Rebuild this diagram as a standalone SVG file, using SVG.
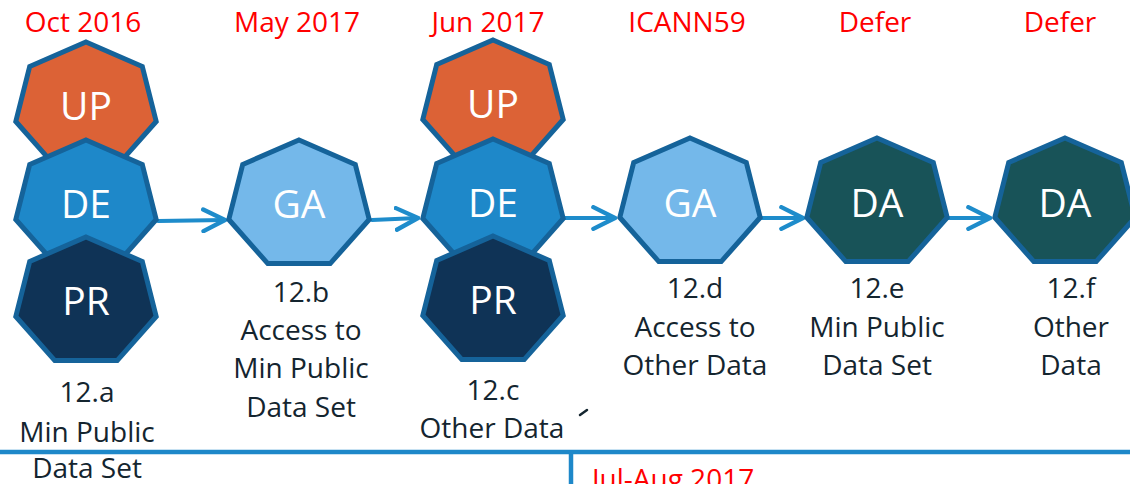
<svg xmlns="http://www.w3.org/2000/svg" xmlns:xlink="http://www.w3.org/1999/xlink" width="1130" height="484" viewBox="0 0 1130 484">
<style>
.hep{stroke:#15639A;stroke-width:5;stroke-linejoin:miter}
.up{fill:#DC6236}.de{fill:#1E88C9}.pr{fill:#0F3356}.ga{fill:#74B8EA}.da{fill:#185358}
.in{font-family:"Open Sans","Liberation Sans",sans-serif;font-size:39px;fill:#FFFFFF;text-anchor:middle}
.hd{font-family:"Open Sans","Liberation Sans",sans-serif;font-size:28px;fill:#FF0000;text-anchor:middle}
.lb{font-family:"Open Sans","Liberation Sans",sans-serif;font-size:28px;fill:#14252F;text-anchor:middle}
.con{stroke:#1E8CCB;stroke-width:4;fill:none;stroke-linecap:round;stroke-linejoin:round}
</style>
<defs>
<polygon id="hept" points="0,-65 56.3,-40.5 70.2,14.5 31.2,58.6 -31.2,58.6 -70.2,14.5 -56.3,-40.5"/>
<marker id="arr" viewBox="0 0 12 12" refX="11" refY="6" markerWidth="6.5" markerHeight="6.5" markerUnits="strokeWidth" orient="auto">
<path d="M1,1 L11,6 L1,11" fill="none" stroke="#1E8CCB" stroke-width="2" stroke-linecap="round" stroke-linejoin="round"/>
</marker>
</defs>
<rect width="1130" height="484" fill="#FFFFFF"/>

<g id="headers">
<text class="hd" x="83" y="32">Oct 2016</text>
<text class="hd" x="297" y="32">May 2017</text>
<text class="hd" x="488" y="32">Jun 2017</text>
<text class="hd" x="687" y="32">ICANN59</text>
<text class="hd" x="875" y="32">Defer</text>
<text class="hd" x="1060" y="32">Defer</text>
</g>

<g id="connectors">
<line class="con" x1="158" y1="221" x2="225" y2="220" marker-end="url(#arr)"/>
<line class="con" x1="372" y1="220" x2="418" y2="218" marker-end="url(#arr)"/>
<line class="con" x1="563" y1="218" x2="615" y2="218" marker-end="url(#arr)"/>
<line class="con" x1="759" y1="218" x2="803" y2="218" marker-end="url(#arr)"/>
<line class="con" x1="947" y1="218" x2="990" y2="218" marker-end="url(#arr)"/>
</g>

<g id="node-12a">
<use xlink:href="#hept" href="#hept" class="hep up" transform="translate(86,107)"/>
<text class="in" x="86" y="120">UP</text>
<use xlink:href="#hept" href="#hept" class="hep de" transform="translate(86,205)"/>
<text class="in" x="86" y="218">DE</text>
<use xlink:href="#hept" href="#hept" class="hep pr" transform="translate(86,302)"/>
<text class="in" x="86" y="315">PR</text>
<text class="lb" x="87" y="402">12.a</text>
<text class="lb" x="87" y="442">Min Public</text>
<text class="lb" x="87" y="478">Data Set</text>
</g>

<g id="node-12b">
<use xlink:href="#hept" href="#hept" class="hep ga" transform="translate(299,205)"/>
<text class="in" x="299" y="218">GA</text>
<text class="lb" x="301" y="302">12.b</text>
<text class="lb" x="301" y="340">Access to</text>
<text class="lb" x="301" y="378">Min Public</text>
<text class="lb" x="301" y="417">Data Set</text>
</g>

<g id="node-12c">
<use xlink:href="#hept" href="#hept" class="hep up" transform="translate(493,105)"/>
<text class="in" x="493" y="118">UP</text>
<use xlink:href="#hept" href="#hept" class="hep de" transform="translate(493,204)"/>
<text class="in" x="493" y="217">DE</text>
<use xlink:href="#hept" href="#hept" class="hep pr" transform="translate(493,301)"/>
<text class="in" x="493" y="314">PR</text>
<text class="lb" x="493" y="400">12.c</text>
<text class="lb" x="492" y="438">Other Data</text>
</g>

<g id="node-12d">
<use xlink:href="#hept" href="#hept" class="hep ga" transform="translate(690,203)"/>
<text class="in" x="690" y="217">GA</text>
<text class="lb" x="695" y="298">12.d</text>
<text class="lb" x="695" y="337">Access to</text>
<text class="lb" x="695" y="375">Other Data</text>
</g>

<g id="node-12e">
<use xlink:href="#hept" href="#hept" class="hep da" transform="translate(877,203)"/>
<text class="in" x="877" y="217">DA</text>
<text class="lb" x="877" y="298">12.e</text>
<text class="lb" x="877" y="337">Min Public</text>
<text class="lb" x="877" y="375">Data Set</text>
</g>

<g id="node-12f">
<use xlink:href="#hept" href="#hept" class="hep da" transform="translate(1065,203)"/>
<text class="in" x="1065" y="217">DA</text>
<text class="lb" x="1071" y="298">12.f</text>
<text class="lb" x="1071" y="337">Other</text>
<text class="lb" x="1071" y="375">Data</text>
</g>

<path d="M580,415 L587,410" stroke="#14252F" stroke-width="2.5" stroke-linecap="round" fill="none"/>

<g id="timeline">
<line x1="0" y1="452" x2="1130" y2="452" stroke="#1E88C9" stroke-width="4.5"/>
<line x1="571" y1="452" x2="571" y2="484" stroke="#1E88C9" stroke-width="4.5"/>
<text x="592" y="489" font-family="'Open Sans','Liberation Sans',sans-serif" font-size="28" fill="#FF0000">Jul-Aug 2017</text>
</g>
</svg>
